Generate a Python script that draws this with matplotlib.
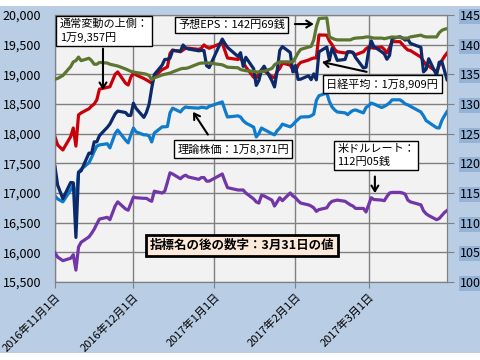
"""Nikkei average vs. theoretical price, EPS forecast and USD/JPY, Nov 2016 - Mar 2017."""

import matplotlib
matplotlib.use("Agg")
import matplotlib.pyplot as plt
import pandas as pd
from matplotlib.patches import FancyArrowPatch, Rectangle
from matplotlib.ticker import FuncFormatter, MultipleLocator

plt.rcParams["font.family"] = ["Noto Sans CJK JP", "DejaVu Sans"]

# business days shown on the chart
NOV_DAYS = [1, 2, 4, 7, 8, 9, 10, 11, 14, 15, 16, 17, 18, 21, 22, 24, 25, 28, 29, 30]
DEC_DAYS = [1, 2, 5, 6, 7, 8, 9, 12, 13, 14, 15, 16, 19, 20, 21, 22, 26, 27, 28, 29, 30]
JAN_DAYS = [4, 5, 6, 10, 11, 12, 13, 16, 17, 18, 19, 20, 23, 24, 25, 26, 27, 30, 31]
FEB_DAYS = [1, 2, 3, 6, 7, 8, 9, 10, 13, 14, 15, 16, 17, 20, 21, 22, 23, 24, 27, 28]
MAR_DAYS = [1, 2, 3, 6, 7, 8, 9, 10, 13, 14, 15, 16, 17, 21, 22, 23, 24, 27, 28, 29, 30, 31]

# 日経平均 (left axis, yen)
nikkei = [
    17442, 17134, 16905, 17177, 17172, 16251, 17344, 17374, 17672, 17668,
    17862, 17862, 17967, 18106, 18162, 18333, 18381, 18356, 18307, 18308,
    18513, 18426, 18274, 18360, 18496, 18765, 18996, 19155, 19250, 19253,
    19273, 19401, 19391, 19494, 19444, 19427, 19396, 19403, 19401, 19145, 19114,
    19594, 19520, 19454, 19301, 19364, 19134, 19287, 19095, 18813, 18894,
    19072, 19137, 18891, 18787, 19057, 19402, 19467, 19368, 19041,
    19148, 18914, 18918, 18976, 18910, 19007, 18907, 19378, 19459, 19238,
    19437, 19347, 19234, 19251, 19381, 19379, 19371, 19283, 19107, 19119,
    19393, 19564, 19469, 19379, 19344, 19254, 19318, 19604, 19633, 19609,
    19577, 19590, 19521, 19455, 19041, 19085, 19262, 18985, 19202, 19217, 19063, 18909,
]

# 通常変動の上側 (left axis, yen)
upper_band = [
    17944, 17810, 17725, 17950, 18095, 17790, 18315, 18350, 18420, 18466,
    18500, 18570, 18750, 18780, 18790, 19000, 19040, 18850, 18820, 18950,
    19020, 18990, 18930, 18905, 18880, 18850, 18960, 19080, 19100, 19125,
    19350, 19410, 19380, 19410, 19440, 19440, 19420, 19440, 19495, 19460, 19440,
    19530, 19400, 19275, 19250, 19275, 19200, 19125, 18950, 18940, 19020,
    19075, 19060, 18960, 18940, 19050, 19100, 19190, 19155, 19080,
    19040, 19155, 19200, 19240, 19260, 19275, 19275, 19663, 19660, 19560,
    19500, 19420, 19380, 19360, 19370, 19380, 19360, 19330, 19380, 19430,
    19460, 19450, 19440, 19460, 19420, 19360, 19450, 19550, 19550, 19500,
    19450, 19410, 19400, 19290, 19220, 19160, 19140, 19040, 19150, 19230, 19300, 19357,
]

# 理論株価 (left axis, yen)
theoretical = [
    16950, 16900, 16850, 17050, 17135, 16850, 17355, 17400, 17510, 17600,
    17700, 17790, 17810, 17830, 17760, 18000, 18060, 17890, 17845, 17980,
    18095, 18030, 17980, 17980, 17960, 17860, 18010, 18115, 18115, 18120,
    18350, 18430, 18365, 18420, 18450, 18440, 18430, 18445, 18440, 18430, 18460,
    18535, 18400, 18280, 18300, 18280, 18220, 18180, 18110, 17945, 18000,
    18095, 18070, 18000, 17980, 18050, 18095, 18160, 18115, 18150,
    18200, 18240, 18280, 18285, 18300, 18330, 18560, 18640, 18685, 18540,
    18450, 18400, 18365, 18350, 18320, 18360, 18390, 18400, 18350, 18440,
    18470, 18515, 18500, 18440, 18460, 18485, 18520, 18570, 18570, 18540,
    18500, 18485, 18460, 18365, 18300, 18220, 18190, 18100, 18095, 18220, 18300, 18371,
]

# 予想EPS (right axis, yen)
eps = [
    134.2, 134.3, 134.8, 136.3, 137.1, 137.3, 137.9, 137.3, 137.7, 137.3,
    136.7, 136.7, 137.0, 136.9, 136.7, 136.5, 136.4, 135.9, 135.7, 135.5,
    135.4, 135.3, 135.1, 135.0, 134.8, 134.1, 134.4, 134.9, 135.0, 135.1,
    135.2, 135.4, 135.9, 136.0, 136.0, 136.1, 136.8, 136.9, 136.9, 136.9, 136.9,
    136.6, 136.4, 136.2, 136.1, 135.8, 135.7, 135.6, 135.5, 135.4, 135.4,
    135.5, 135.5, 136.0, 136.6, 136.9, 137.1, 137.1, 137.1, 137.1,
    137.8, 138.6, 139.2, 139.6, 139.7, 140.8, 143.0, 144.4, 144.5, 141.3,
    141.1, 140.9, 140.8, 140.8, 140.8, 140.8, 141.0, 141.1, 141.2, 141.3,
    141.3, 141.2, 141.1, 141.1, 141.0, 141.1, 141.2, 141.3, 141.2, 141.1,
    141.1, 141.1, 141.3, 141.6, 141.4, 141.3, 141.3, 141.3, 142.0, 142.4, 142.6, 142.69,
]

# 米ドルレート (right axis, yen per dollar)
usd_jpy = [
    104.9, 104.2, 103.6, 104.0, 104.6, 102.0, 105.9, 106.7, 107.6, 108.2,
    108.9, 109.8, 110.6, 110.9, 110.5, 112.8, 113.5, 112.3, 112.1, 113.2,
    114.3, 114.2, 114.1, 114.1, 113.8, 113.6, 115.3, 115.0, 115.3, 116.8,
    118.4, 118.2, 117.4, 117.8, 118.0, 117.7, 117.3, 117.6, 117.6, 117.0, 117.0,
    118.2, 117.0, 115.9, 115.5, 115.5, 115.5, 115.0, 114.0, 113.5, 113.3,
    114.6, 114.5, 113.8, 112.8, 113.5, 114.2, 113.7, 115.0, 114.5,
    114.2, 113.7, 113.3, 113.0, 112.8, 112.5, 111.9, 112.2, 112.5, 113.2,
    113.6, 113.7, 113.8, 113.6, 113.3, 113.0, 112.8, 112.4, 112.4, 111.8,
    113.0, 114.2, 113.9, 113.8, 113.7, 114.4, 115.0, 115.1, 115.1, 115.0,
    114.8, 113.8, 113.5, 113.0, 112.0, 111.5, 111.2, 110.5, 110.7, 111.2, 111.7, 112.05,
]

MONTH_TICKS = ["2016-11-01", "2016-12-01", "2017-01-01", "2017-02-01", "2017-03-01"]

GRID = "#808080"


def build_dates():
    parts = [(2016, 11, NOV_DAYS), (2016, 12, DEC_DAYS), (2017, 1, JAN_DAYS),
             (2017, 2, FEB_DAYS), (2017, 3, MAR_DAYS)]
    out = []
    for y, m, days in parts:
        out += [pd.Timestamp(y, m, d) for d in days]
    return out


def add_arrow(ax, start, end):
    # callout arrow in axes-fraction coordinates, open head like the original
    ax.add_patch(FancyArrowPatch(start, end, transform=ax.transAxes,
                                 arrowstyle="->,head_length=4,head_width=2.5",
                                 color="black", lw=1.5, shrinkA=0, shrinkB=0,
                                 zorder=10, clip_on=False))


def main():
    dates = build_dates()

    fig = plt.figure(figsize=(4.8, 3.6), dpi=100, facecolor="white")
    fig.add_artist(Rectangle((0, 0.019), 1, 0.964, transform=fig.transFigure,
                             facecolor="#b9cde5", edgecolor="none", zorder=-5))

    ax = fig.add_axes([0.1146, 0.2167, 0.8167, 0.7417])
    ax.set_facecolor("#f2f2f2")
    ax2 = ax.twinx()

    ax.plot(dates, theoretical, color="#0f7bcc", lw=2.3, zorder=3)
    ax.plot(dates, upper_band, color="#c8000a", lw=2.3, zorder=4)
    ax.plot(dates, nikkei, color="#0c2a6a", lw=2.3, zorder=5)
    ax2.plot(dates, eps, color="#5c7530", lw=2.3, zorder=3)
    ax2.plot(dates, usd_jpy, color="#7236a8", lw=2.3, zorder=3)

    ax.set_xlim(pd.Timestamp("2016-11-01"), pd.Timestamp("2017-03-31"))
    ax.set_ylim(15500, 20000)
    ax2.set_ylim(100, 145)
    ax.yaxis.set_major_locator(MultipleLocator(500))
    ax2.yaxis.set_major_locator(MultipleLocator(5))
    ax.yaxis.set_major_formatter(FuncFormatter(lambda v, p: f"{v:,.0f}"))

    ticks = pd.to_datetime(MONTH_TICKS)
    ax.set_xticks(ticks)
    ax.set_xticklabels([f"{t.year}年{t.month}月{t.day}日" for t in ticks],
                       rotation=45, ha="right", rotation_mode="anchor", fontsize=8)
    ax.grid(True, color=GRID, lw=1)
    ax.set_axisbelow(True)

    for a in (ax, ax2):
        for s in a.spines.values():
            s.set_color(GRID)
    ax.tick_params(axis="x", color=GRID, length=4, pad=3)
    ax.tick_params(axis="y", color=GRID, length=0, pad=10, labelsize=9)
    ax2.tick_params(axis="y", color=GRID, length=5, pad=4, labelsize=9)
    for lbl in ax2.get_yticklabels():
        lbl.set_bbox(dict(facecolor="#95b3d7", edgecolor="none", pad=0.6))

    box = dict(boxstyle="square,pad=0.3", facecolor="white", edgecolor="black", lw=1)
    kw = dict(transform=ax2.transAxes, fontsize=8, zorder=11)

    ax2.text(0.012, 0.985, "通常変動の上側：\n1万9,357円", ha="left", va="top",
             bbox=box, linespacing=1.3, **kw)
    add_arrow(ax2, (0.1224, 0.874), (0.1224, 0.719))

    ax2.text(0.450, 0.962, "予想EPS：142円69銭", ha="center", va="center", bbox=box, **kw)
    add_arrow(ax2, (0.612, 0.966), (0.660, 0.966))

    ax2.text(0.835, 0.742, "日経平均：1万8,909円", ha="center", va="center", bbox=box, **kw)
    add_arrow(ax2, (0.795, 0.787), (0.681, 0.824))

    ax2.text(0.454, 0.498, "理論株価：1万8,371円", ha="center", va="center", bbox=box, **kw)
    add_arrow(ax2, (0.390, 0.552), (0.352, 0.637))

    ax2.text(0.720, 0.515, "米ドルレート：\n112円05銭", ha="left", va="top",
             bbox=box, linespacing=1.3, **kw)
    add_arrow(ax2, (0.816, 0.395), (0.816, 0.333))

    note = dict(boxstyle="square,pad=0.3", facecolor="#fde9d9", edgecolor="black", lw=2)
    ax2.text(0.477, 0.137, "指標名の後の数字：3月31日の値", ha="center", va="center",
             bbox=note, transform=ax2.transAxes, fontsize=9, fontweight="bold", zorder=11)

    fig.savefig("out.png", dpi=100)


if __name__ == "__main__":
    main()
